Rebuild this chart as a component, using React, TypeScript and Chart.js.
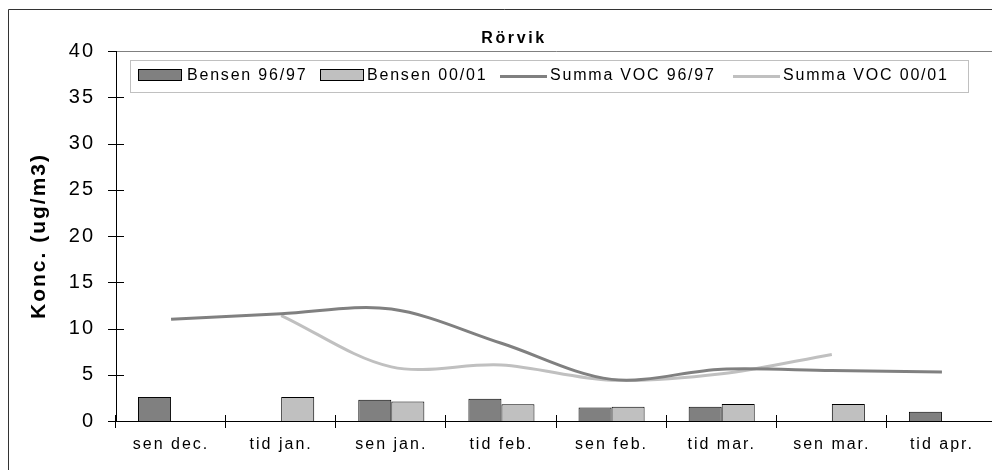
import React, { useEffect, useRef } from 'react';
import { Chart, registerables } from 'chart.js';

Chart.register(...registerables);

const categories = ['sen dec.', 'tid jan.', 'sen jan.', 'tid feb.', 'sen feb.', 'tid mar.', 'sen mar.', 'tid apr.'];
const bensen9697 = [2.6, null, 2.3, 2.4, 1.45, 1.55, null, 1.0];
const bensen0001 = [null, 2.6, 2.1, 1.8, 1.55, 1.85, 1.85, null];
const voc9697 = [11.0, 11.6, 12.1, 8.4, 4.5, 5.6, 5.45, 5.3];
const voc0001 = [null, 11.4, 5.85, 6.05, 4.4, 5.1, 7.2, null];
const seriesNames = ['Bensen 96/97', 'Bensen 00/01', 'Summa VOC 96/97', 'Summa VOC 00/01'];
const chartTitle = 'Rörvik';
const yTitle = 'Konc. (ug/m3)';

const FONT = 'Arial, "Liberation Sans", sans-serif';
const DARK = '#808080';
const LIGHT = '#c0c0c0';

const decor = {
  id: 'decor',
  beforeDraw(chart: any) {
    chart.ctx.letterSpacing = '2px';
  },
  afterDraw(chart: any) {
    const ctx = chart.ctx as CanvasRenderingContext2D;
    const { left, right, top, bottom } = chart.chartArea;
    ctx.save();
    // outer frame
    ctx.strokeStyle = '#333';
    ctx.lineWidth = 1;
    ctx.beginPath();
    ctx.moveTo(0.5, chart.height);
    ctx.lineTo(0.5, 1.5);
    ctx.lineTo(chart.width, 1.5);
    ctx.stroke();
    // plot border top/right
    ctx.strokeStyle = DARK;
    ctx.beginPath();
    ctx.moveTo(left + 1, Math.round(top) + 0.5);
    ctx.lineTo(Math.round(right) - 0.5, Math.round(top) + 0.5);
    ctx.lineTo(Math.round(right) - 0.5, bottom);
    ctx.stroke();
    // crossing ticks
    ctx.strokeStyle = '#000';
    const ys = chart.scales.y;
    ctx.beginPath();
    for (let v = 0; v <= 40; v += 5) {
      const y = Math.round(ys.getPixelForValue(v)) + 0.5;
      ctx.moveTo(left - 8, y);
      ctx.lineTo(v === 40 ? left : left + 8, y);
    }
    const xs = chart.scales.x;
    const half = (xs.getPixelForValue(1) - xs.getPixelForValue(0)) / 2;
    for (let i = 0; i <= categories.length; i++) {
      const x = Math.round(xs.getPixelForValue(Math.min(i, categories.length - 1)) + (i === categories.length ? half : -half)) - 0.5;
      ctx.moveTo(x, bottom - 6);
      ctx.lineTo(x, bottom + 7);
    }
    ctx.stroke();

    // title
    ctx.fillStyle = '#000';
    ctx.textBaseline = 'middle';
    ctx.textAlign = 'center';
    (ctx as any).letterSpacing = '2.6px';
    ctx.font = `bold 16px ${FONT}`;
    ctx.fillText(chartTitle, 506, 31);

    // y title
    ctx.save();
    ctx.translate(31, 228);
    ctx.rotate(-Math.PI / 2);
    (ctx as any).letterSpacing = '2px';
    ctx.font = `bold 21px ${FONT}`;
    ctx.fillText(yTitle, 0, 0);
    ctx.restore();

    // legend
    ctx.fillStyle = '#fff';
    ctx.fillRect(122, 52, 838, 32);
    ctx.strokeStyle = LIGHT;
    ctx.strokeRect(122.5, 52.5, 838, 32);
    ctx.textAlign = 'left';
    (ctx as any).letterSpacing = '1.8px';
    ctx.font = `16px ${FONT}`;
    const ly = 68;
    const boxes = [
      { x: 130, color: DARK, tx: 179 },
      { x: 312, color: LIGHT, tx: 359 },
    ];
    boxes.forEach((b, i) => {
      ctx.fillStyle = b.color;
      ctx.fillRect(b.x + 0.5, 61.5, 43, 11);
      ctx.strokeStyle = '#000';
      ctx.strokeRect(b.x + 0.5, 61.5, 43, 11);
      ctx.fillStyle = '#000';
      ctx.fillText(seriesNames[i], b.tx, ly);
    });
    const lines = [
      { x1: 492, x2: 539, color: DARK, tx: 542 },
      { x1: 725, x2: 772, color: LIGHT, tx: 775 },
    ];
    lines.forEach((l, i) => {
      ctx.strokeStyle = l.color;
      ctx.lineWidth = 3;
      ctx.beginPath();
      ctx.moveTo(l.x1, ly + 0.5);
      ctx.lineTo(l.x2, ly + 0.5);
      ctx.stroke();
      ctx.fillStyle = '#000';
      ctx.fillText(seriesNames[i + 2], l.tx, ly);
    });
    ctx.restore();
  },
};

export default function App() {
  const ref = useRef<HTMLCanvasElement>(null);
  useEffect(() => {
    const chart = new Chart(ref.current as HTMLCanvasElement, {
      type: 'bar',
      data: {
        labels: categories,
        datasets: [
          {
            type: 'line',
            label: seriesNames[2],
            data: voc9697,
            borderColor: DARK,
            borderWidth: 3,
            pointRadius: 0,
            tension: 0.33,
            fill: false,
            order: 0,
          } as any,
          {
            type: 'line',
            label: seriesNames[3],
            data: voc0001,
            borderColor: LIGHT,
            borderWidth: 3,
            pointRadius: 0,
            tension: 0.33,
            fill: false,
            order: 0,
          } as any,
          {
            type: 'bar',
            label: seriesNames[0],
            data: bensen9697,
            backgroundColor: DARK,
            borderColor: '#000',
            borderWidth: 1,
            barPercentage: 1,
            categoryPercentage: 0.6,
            order: 1,
          },
          {
            type: 'bar',
            label: seriesNames[1],
            data: bensen0001,
            backgroundColor: LIGHT,
            borderColor: '#000',
            borderWidth: 1,
            barPercentage: 1,
            categoryPercentage: 0.6,
            order: 1,
          },
        ],
      },
      options: {
        responsive: false,
        animation: false,
        layout: { padding: { left: 0, right: 3, top: 43, bottom: 0 } },
        plugins: {
          legend: { display: false },
          title: { display: false },
          tooltip: { enabled: false },
        },
        scales: {
          x: {
            grid: { display: false, drawTicks: false },
            border: { display: true, color: '#000', width: 1 },
            ticks: { font: { size: 16, family: FONT }, color: '#000', padding: 14, maxRotation: 0, autoSkip: false },
            afterFit(s: any) { s.height = 49; },
          },
          y: {
            min: 0,
            max: 40,
            grid: { display: false, drawTicks: false },
            border: { display: true, color: '#000', width: 1 },
            ticks: { stepSize: 5, font: { size: 20, family: FONT }, color: '#000', padding: 21 },
            afterFit(s: any) { s.width = 108; },
          },
        },
      },
      plugins: [decor],
    });
    return () => chart.destroy();
  }, []);
  return (
    <div style={{ width: 992, height: 462 }}>
      <canvas ref={ref} width={992} height={462} style={{ display: 'block' }} />
    </div>
  );
}
